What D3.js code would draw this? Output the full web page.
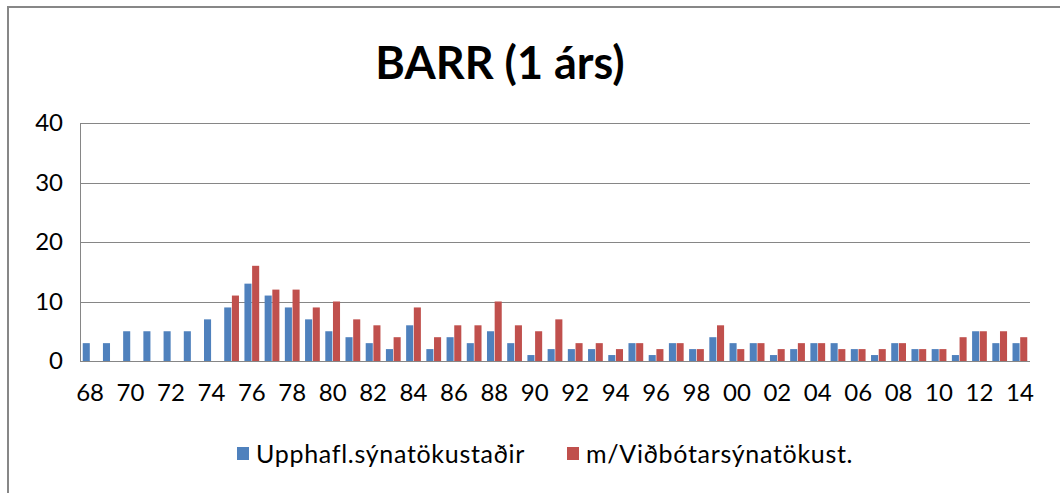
<!DOCTYPE html>
<html>
<head>
<meta charset="utf-8">
<script src="https://cdn.jsdelivr.net/npm/d3@7"></script>
<style>
  body { margin: 0; background: #fff; }
  text { font-family: Lato, "Open Sans", sans-serif; fill: #000; }
</style>
</head>
<body>
<div id="chart"></div>
<script>
var years = ['68','69','70','71','72','73','74','75','76','77','78','79','80','81','82','83',
    '84','85','86','87','88','89','90','91','92','93','94','95','96','97','98','99',
    '00','01','02','03','04','05','06','07','08','09','10','11','12','13','14'];

var upphafl = [3,3,5,5,5,5,7,9,13,11,9,7,5,4,3,2,
    6,2,4,3,5,3,1,2,2,2,1,3,1,3,2,4,
    3,3,1,2,3,3,2,1,3,2,2,1,5,3,3];

var vidbot = [null,null,null,null,null,null,null,11,16,12,12,9,10,7,6,4,
    9,4,6,6,10,6,5,7,3,3,2,3,2,3,2,6,
    2,3,2,3,3,2,2,2,3,2,2,4,5,5,4];

var seriesNames = ['Upphafl.sýnatökustaðir', 'm/Viðbótarsýnatökust.'];
var colors = ['#4F81BD', '#C0504D'];
var yTicks = [0, 10, 20, 30, 40];
var xTickLabels = years.filter(function(d, i) { return i % 2 === 0; });

var W = 1060, H = 493;
var plotLeft = 80, plotRight = 1030, plotTop = 123, plotBottom = 361;

var svg = d3.select('#chart')
    .append('svg')
    .attr('width', W)
    .attr('height', H);

// chart frame (right and bottom edges fall outside the picture)
svg.append('rect')
    .attr('x', 8).attr('y', 7)
    .attr('width', W + 20).attr('height', H + 20)
    .attr('fill', 'none')
    .attr('stroke', '#878787')
    .attr('stroke-width', 2);

svg.append('text')
    .attr('x', 500).attr('y', 79)
    .attr('text-anchor', 'middle')
    .style('font-weight', 'bold')
    .style('font-size', '45px')
    .text('BARR (1 árs)');

var x0 = d3.scaleBand().domain(years).range([plotLeft, plotRight]).paddingInner(0.27).paddingOuter(0.135);
var x1 = d3.scaleBand().domain([0, 1]).range([0, x0.bandwidth()]).paddingInner(0.08);
var y = d3.scaleLinear().domain([0, 40]).range([plotBottom, plotTop]);

// gridlines
svg.append('g')
    .selectAll('line')
    .data(yTicks.slice(1))
    .enter()
    .append('line')
    .attr('x1', plotLeft).attr('x2', plotRight)
    .attr('y1', function(d) { return Math.round(y(d)) + 0.5; })
    .attr('y2', function(d) { return Math.round(y(d)) + 0.5; })
    .attr('stroke', '#868686')
    .attr('stroke-width', 1);

// y axis labels
var yAxis = d3.axisLeft(y).tickValues(yTicks).tickSize(0).tickPadding(17);
svg.append('g')
    .attr('transform', 'translate(' + plotLeft + ',0)')
    .call(yAxis)
    .call(function(g) { g.select('.domain').remove(); })
    .selectAll('text')
    .style('font-size', '24px')
    .style('font-family', 'Lato, "Open Sans", sans-serif');

// bars
var barData = [];
years.forEach(function(yr, i) {
    [upphafl[i], vidbot[i]].forEach(function(v, s) {
        if (v != null) barData.push({ year: yr, s: s, v: v });
    });
});

svg.append('g')
    .selectAll('rect')
    .data(barData)
    .enter()
    .append('rect')
    .attr('x', function(d) { return x0(d.year) + x1(d.s); })
    .attr('width', x1.bandwidth())
    .attr('y', function(d) { return y(d.v); })
    .attr('height', function(d) { return y(0) - y(d.v); })
    .attr('fill', function(d) { return colors[d.s]; });

// axes lines
svg.append('line')
    .attr('x1', plotLeft + 0.5).attr('x2', plotLeft + 0.5)
    .attr('y1', plotTop).attr('y2', plotBottom)
    .attr('stroke', '#868686');
svg.append('line')
    .attr('x1', plotLeft).attr('x2', plotRight)
    .attr('y1', plotBottom + 0.5).attr('y2', plotBottom + 0.5)
    .attr('stroke', '#868686');

// x axis labels
var xAxis = d3.axisBottom(x0).tickValues(xTickLabels).tickSize(0).tickPadding(23);
svg.append('g')
    .attr('transform', 'translate(0,' + plotBottom + ')')
    .call(xAxis)
    .call(function(g) { g.select('.domain').remove(); })
    .selectAll('text')
    .style('font-size', '24px')
    .style('font-family', 'Lato, "Open Sans", sans-serif');

// legend
var legendX = [237, 567];
var legend = svg.append('g')
    .selectAll('g')
    .data(seriesNames)
    .enter()
    .append('g')
    .attr('transform', function(d, i) { return 'translate(' + legendX[i] + ',447)'; });

legend.append('rect')
    .attr('width', 12).attr('height', 13)
    .attr('fill', function(d, i) { return colors[i]; });

legend.append('text')
    .attr('x', 19).attr('y', 16)
    .style('font-size', '25px')
    .style('letter-spacing', '0.7px')
    .text(function(d) { return d; });
</script>
</body>
</html>
